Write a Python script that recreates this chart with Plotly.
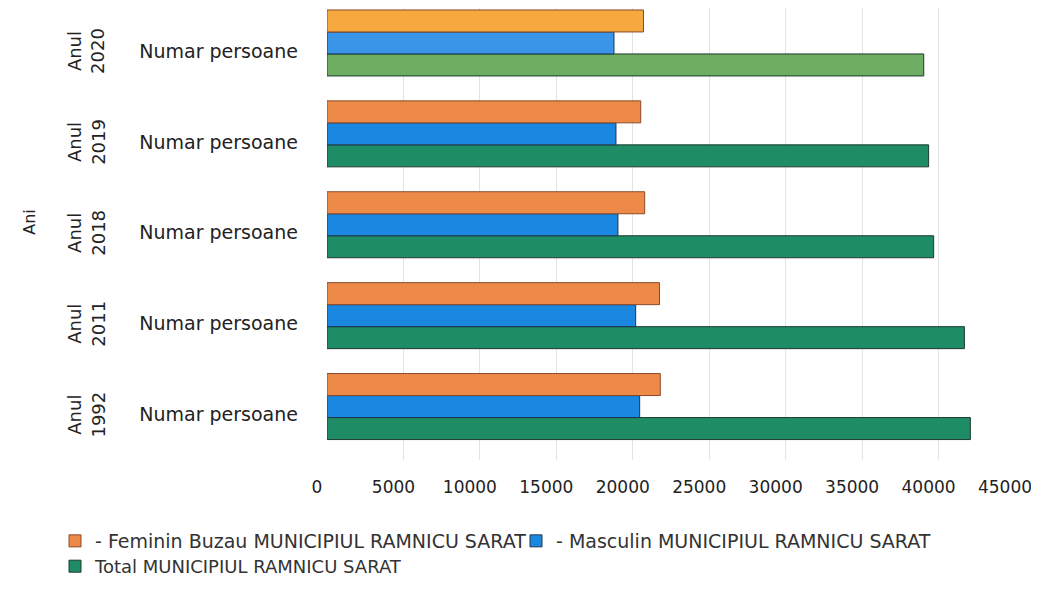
import plotly.graph_objects as go

# Data
years = ["Anul 1992", "Anul 2011", "Anul 2018", "Anul 2019", "Anul 2020"]
year_labels = ["Anul<br>1992", "Anul<br>2011", "Anul<br>2018", "Anul<br>2019", "Anul<br>2020"]
row_label = "Numar persoane"
feminin = [21800, 21750, 20780, 20520, 20700]
masculin = [20450, 20190, 19030, 18900, 18770]
total = [42080, 41690, 39680, 39350, 39030]
x_ticks = [0, 5000, 10000, 15000, 20000, 25000, 30000, 35000, 40000, 45000]

name_f = "- Feminin Buzau MUNICIPIUL RAMNICU SARAT"
name_m = "- Masculin MUNICIPIUL RAMNICU SARAT"
name_t = "Total MUNICIPIUL RAMNICU SARAT"

# Styles
col_f = ["#EE8A48", "#EE8A48", "#EE8A48", "#EE8A48", "#F7A93F"]
col_m = ["#1A88E0", "#1A88E0", "#1A88E0", "#1A88E0", "#3A95E8"]
col_t = ["#1E8C64", "#1E8C64", "#1E8C64", "#1E8C64", "#6DAE62"]
font_family = "DejaVu Sans, Open Sans, sans-serif"
bar_w = 0.242  # thickness of each bar in category units
# bars sit slightly above the category label (3D look of the original)
off_f, off_m, off_t = 0.209, -0.033, -0.275

fig = go.Figure()
fig.add_trace(go.Bar(y=years, x=total, orientation="h", name=name_t, legend="legend3",
                     width=bar_w, offset=off_t, showlegend=True,
                     marker=dict(color=col_t, line=dict(color="#1f3a30", width=1))))
fig.add_trace(go.Bar(y=years, x=masculin, orientation="h", name=name_m, legend="legend2",
                     width=bar_w, offset=off_m, showlegend=True,
                     marker=dict(color=col_m, line=dict(color="#1d3550", width=1))))
fig.add_trace(go.Bar(y=years, x=feminin, orientation="h", name=name_f, legend="legend",
                     width=bar_w, offset=off_f, showlegend=True,
                     marker=dict(color=col_f, line=dict(color="#8a4a2a", width=1))))

# page body adds an 8px offset; figure coordinates are screen coordinates minus 8
W, H = 1023, 577
ml, mt = 319, 0
plot_w = 688
plot_h = 452.5
mr = W - ml - plot_w
mb = H - mt - plot_h
y_top = 4.5 - 2.5 / 91.0

annotations = []
for yv, lab in zip(years, year_labels):
    annotations.append(dict(x=(78 - ml) / plot_w, xref="paper", y=yv, yref="y",
                            text=lab, textangle=-90, showarrow=False,
                            xanchor="center", yanchor="middle",
                            font=dict(size=18, color="#222222", family=font_family)))
annotations.append(dict(x=(22 - ml) / plot_w, xref="paper",
                        y=(mt + plot_h - 214) / plot_h, yref="paper",
                        text="Ani", textangle=-90, showarrow=False,
                        xanchor="center", yanchor="middle",
                        font=dict(size=16, color="#222222", family=font_family)))

legend_common = dict(orientation="h", xref="container", yref="container",
                     xanchor="left", yanchor="middle",
                     font=dict(size=19, color="#333333", family=font_family),
                     itemwidth=30, bgcolor="rgba(0,0,0,0)", visible=True)

fig.update_layout(
    width=W, height=H,
    showlegend=True,
    margin=dict(l=ml, r=mr, t=mt, b=mb, autoexpand=False),
    paper_bgcolor="white", plot_bgcolor="white",
    barmode="group",
    font=dict(family=font_family, color="#222222"),
    annotations=annotations,
    legend=dict(legend_common, x=47 / W, y=1 - 533 / H),
    legend2=dict(legend_common, x=508 / W, y=1 - 533 / H),
    legend3=dict(legend_common, x=47 / W, y=0.0, yanchor="bottom",
                 font=dict(size=18, color="#333333", family=font_family)),
    xaxis=dict(range=[0, 45000], tickvals=x_ticks, ticktext=[str(v) for v in x_ticks],
               showgrid=True, gridcolor="#e4e4e4", zeroline=False, showline=False,
               automargin=False, ticklabeloverflow="allow", ticklabelshift=-10,
               tickfont=dict(size=17, color="#222222"), ticklabelstandoff=15),
    yaxis=dict(type="category", categoryorder="array", categoryarray=years,
               range=[-0.5, y_top],
               tickvals=years, ticktext=[row_label] * len(years),
               showgrid=False, showline=False, zeroline=False, automargin=False,
               tickfont=dict(size=19, color="#222222"), ticklabelstandoff=28),
)

fig.write_html("out.html")
